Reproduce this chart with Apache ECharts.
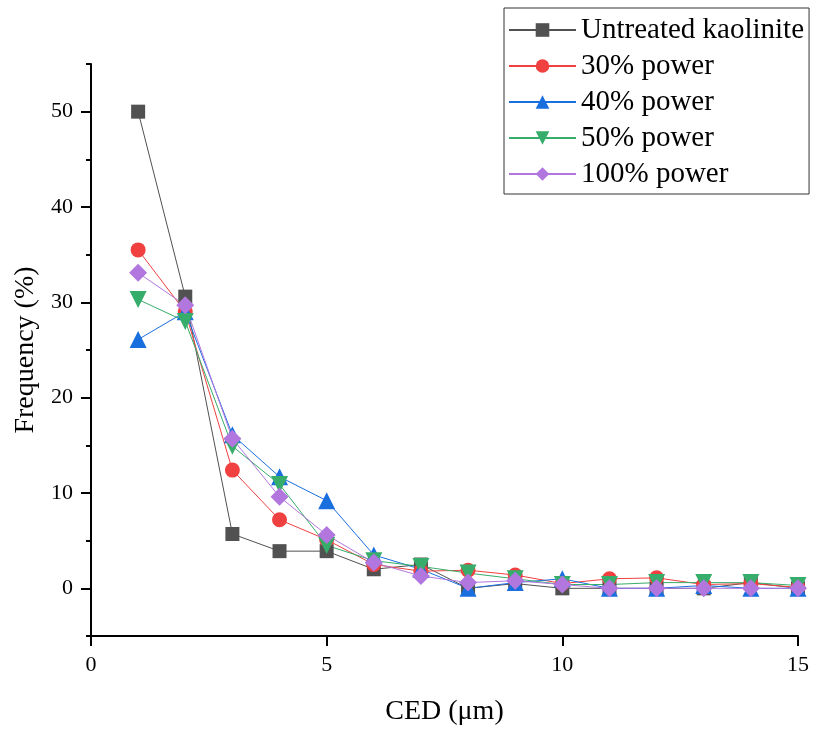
<!DOCTYPE html>
<html>
<head>
<meta charset="utf-8">
<script src="https://cdn.jsdelivr.net/npm/echarts@6/dist/echarts.min.js"></script>
<style>html,body{margin:0;padding:0;background:#fff;}#c{width:816px;height:732px;}</style>
</head>
<body>
<div id="c"></div>
<script>
const ced = [1,2,3,4,5,6,7,8,9,10,11,12,13,14,15];
const untreated = [50.0,30.6,5.7,3.9,3.9,2.0,2.5,0.0,0.5,0.0,0.0,0.0,0.0,0.6,0.0];
const p30 = [35.5,29.0,12.4,7.2,5.1,2.5,1.8,1.9,1.4,0.5,1.0,1.1,0.4,0.5,0.1];
const p40 = [26.1,29.0,16.1,11.7,9.2,3.5,2.0,0.0,0.6,1.0,0.0,0.0,0.3,0.0,0.0];
const p50 = [30.3,28.0,14.9,10.9,4.5,2.9,2.3,1.6,1.0,0.4,0.4,0.6,0.6,0.6,0.3];
const p100 = [33.1,29.7,15.7,9.6,5.6,2.7,1.3,0.6,0.8,0.4,0.0,0.0,0.0,0.0,0.0];
const seriesNames = ['Untreated kaolinite','30% power','40% power','50% power','100% power'];
const yMajor = [0,10,20,30,40,50];
const yMinor = [-5,5,15,25,35,45,55];

const colors = ['#515151','#F14040','#1A6FDF','#37AD6B','#B177DE'];
const symbols = ['rect','circle','triangle','triangle','diamond'];
const rotates = [0,0,0,180,0];
const sizes = [14,15,17,17,18];
const datasets = [untreated,p30,p40,p50,p100];
const font = 'Liberation Serif';

const chart = echarts.init(document.getElementById('c'));
chart.setOption({
  animation:false,
  backgroundColor:'#fff',
  grid:{left:91,right:18,top:64,bottom:96},
  legend:{
    orient:'vertical', left:504, top:8,
    padding:[7,5,5,4],
    borderColor:'#333', borderWidth:1,
    itemWidth:67, itemHeight:17, itemGap:6, itemTextGap:8,
    textStyle:{fontFamily:font,fontSize:29,color:'#000',lineHeight:30},
    data:seriesNames
  },
  xAxis:{
    type:'value', min:0, max:15, interval:5,
    name:'CED (μm)', nameLocation:'middle', nameGap:62,
    nameTextStyle:{fontFamily:font,fontSize:28,color:'#000'},
    axisLine:{onZero:false,lineStyle:{color:'#000',width:2}},
    axisTick:{inside:false,length:10,lineStyle:{color:'#000',width:2}},
    axisLabel:{fontFamily:font,fontSize:22,color:'#000',margin:18},
    splitLine:{show:false}
  },
  yAxis:[{
    type:'value', min:-5, max:55,
    name:'Frequency (%)', nameLocation:'middle', nameGap:50,
    nameTextStyle:{fontFamily:font,fontSize:28,color:'#000'},
    axisLine:{show:true,onZero:false,lineStyle:{color:'#000',width:2}},
    axisTick:{show:true,length:10,customValues:yMajor,lineStyle:{color:'#000',width:2}},
    axisLabel:{fontFamily:font,fontSize:22,color:'#000',margin:18,customValues:yMajor},
    splitLine:{show:false}
  },{
    type:'value', min:-5, max:55, position:'left',
    axisLine:{show:false},
    axisTick:{show:true,length:5,customValues:yMinor,lineStyle:{color:'#000',width:2}},
    axisLabel:{show:false},
    splitLine:{show:false}
  }],
  series: datasets.map((d,i)=>({
    name:seriesNames[i], type:'line',
    data: ced.map((x,j)=>[x,d[j]]),
    symbol:symbols[i], symbolSize:sizes[i], symbolRotate:rotates[i],
    showAllSymbol:true,
    color:colors[i],
    itemStyle:{color:colors[i],borderWidth:0},
    lineStyle:{color:colors[i],width:1},
    emphasis:{disabled:true}
  }))
});
</script>
</body>
</html>
